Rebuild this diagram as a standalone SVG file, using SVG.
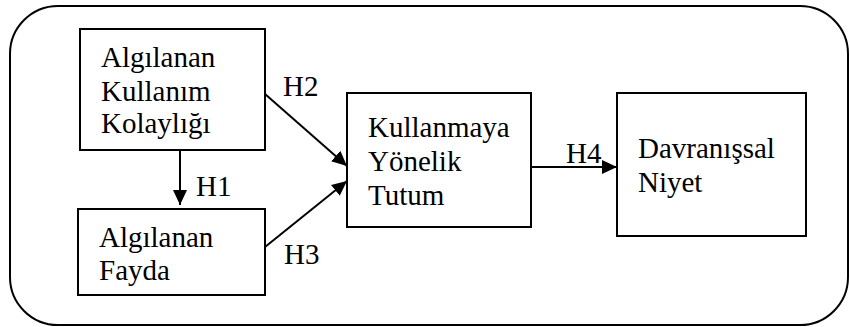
<svg xmlns="http://www.w3.org/2000/svg" width="850" height="327" viewBox="0 0 850 327">
<defs>
<style>
text{font-family:"Liberation Serif","Times New Roman",serif;font-size:29px;fill:#000}
.box{fill:#fff;stroke:#000;stroke-width:2}
.edge{stroke:#000;stroke-width:2;fill:none}
</style>
<marker id="ah" markerWidth="16" markerHeight="14" refX="15" refY="7" orient="auto" markerUnits="userSpaceOnUse">
<path d="M0,0 L15,7 L0,14 Z" fill="#000"/>
</marker>
</defs>
<rect x="10" y="6" width="838" height="319" rx="48" ry="48" fill="#fff" stroke="#000" stroke-width="2"/>
<g id="n1">
<rect class="box" x="80" y="29" width="185" height="121"/>
<text x="101" y="67">Algılanan</text>
<text x="101" y="101">Kullanım</text>
<text x="101" y="133">Kolaylığı</text>
</g>
<g id="n2">
<rect class="box" x="78" y="209" width="187" height="86"/>
<text x="99" y="247">Algılanan</text>
<text x="99" y="280">Fayda</text>
</g>
<g id="n3">
<rect class="box" x="347" y="93" width="184" height="134"/>
<text x="368" y="137">Kullanmaya</text>
<text x="368" y="171">Yönelik</text>
<text x="368" y="205">Tutum</text>
</g>
<g id="n4">
<rect class="box" x="617" y="93" width="189" height="143" stroke-width="3"/>
<text x="638" y="158">Davranışsal</text>
<text x="638" y="192">Niyet</text>
</g>
<g id="edges">
<line class="edge" x1="180" y1="150" x2="180" y2="205" marker-end="url(#ah)"/>
<line class="edge" x1="265" y1="94" x2="347" y2="166" marker-end="url(#ah)"/>
<line class="edge" x1="265" y1="247" x2="347" y2="181" marker-end="url(#ah)"/>
<line class="edge" x1="531" y1="167" x2="617" y2="167" marker-end="url(#ah)"/>
<text x="196" y="196">H1</text>
<text x="283" y="96">H2</text>
<text x="284" y="264">H3</text>
<text x="566" y="163">H4</text>
</g>
</svg>
